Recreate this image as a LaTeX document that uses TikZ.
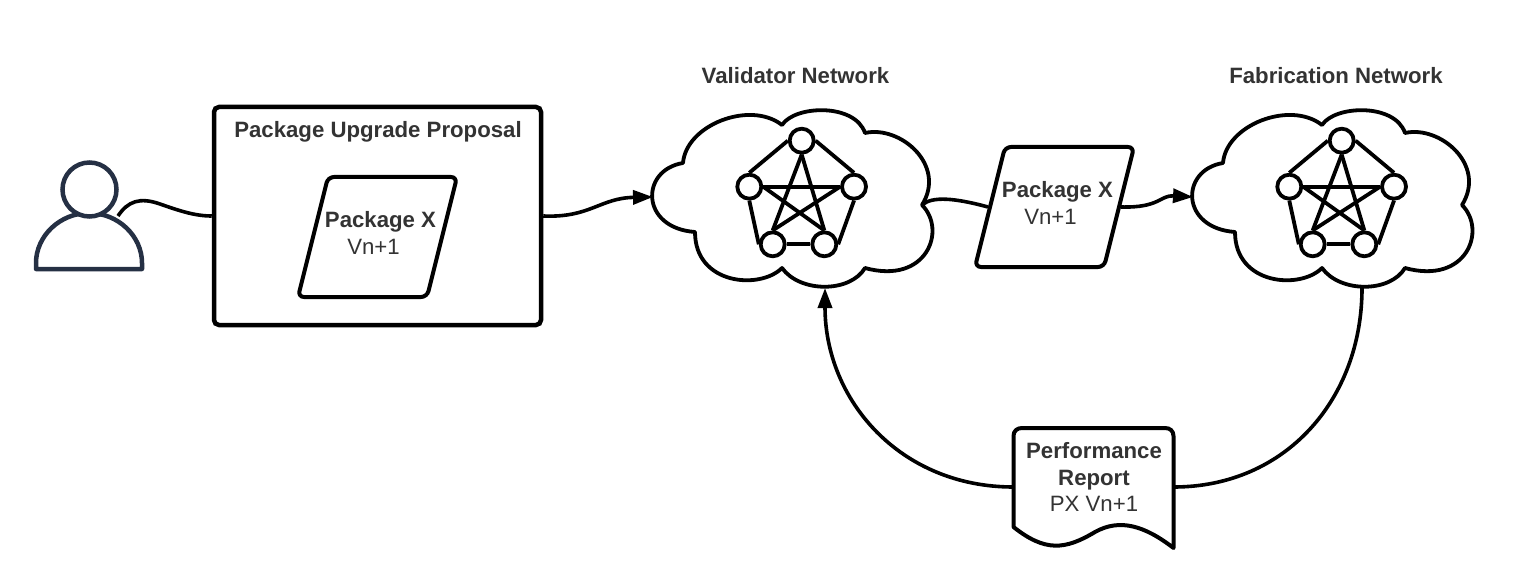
\documentclass[tikz,border=0pt]{standalone}
\usepackage{fontspec}
\setmainfont{Liberation Sans}
\usetikzlibrary{arrows.meta}
\definecolor{inkdark}{HTML}{333333}
\definecolor{personblue}{HTML}{253044}
\tikzset{
  lbl/.style={text=inkdark, font=\fontsize{22.2}{26.5}\selectfont, inner sep=0pt, align=center},
  boldlbl/.style={lbl, font=\fontsize{22.2}{26.5}\selectfont\bfseries},
  conn/.style={line width=3.6pt},
  connarrow/.style={conn, -{Triangle[length=20pt,width=14pt]}},
  peer/.style={circle, draw, fill=white, line width=3.8pt, minimum size=24pt, inner sep=0pt},
  peerlink/.style={line width=3.8pt},
  pkgshape/.style={rectangle, transform shape, xslant=0.25, draw, line width=4pt, rounded corners=6pt,
    minimum width=129pt, minimum height=120pt, inner sep=0pt},
}
\begin{document}
\begin{tikzpicture}[x=1pt,y=-1pt]
\useasboundingbox[fill=white] (0,0) rectangle (1523,588);

% Person
\draw[personblue, line width=4.5pt, line join=round] (36,269) -- (36,263)
  .. controls (36,236) and (60,213) .. (89,213) .. controls (118,213) and (142,236) .. (142,263) -- (142,269) -- cycle;
\node[circle, draw=personblue, fill=white, line width=4.5pt, minimum size=54pt, inner sep=0pt] (head) at (89.5,189.5) {};
\coordinate (personout) at (118,216);

% Proposal box
\node[draw, line width=4.5pt, rounded corners=5pt, minimum width=327pt, minimum height=218pt, inner sep=0pt] (proposal) at (377.5,216) {};
\node[boldlbl] (proposaltitle) at (378,132) {Package Upgrade Proposal};

% Packages
\node[pkgshape] (pkgfirst) at (377.5,237) {};
\node[boldlbl] (pkgfirstname) at (380.5,222) {Package X};
\node[lbl] (pkgfirstver) at (373.5,247) {Vn+1};
\node[pkgshape] (pkgsecond) at (1054.5,207) {};
\node[boldlbl] (pkgsecondname) at (1057.5,192) {Package X};
\node[lbl] (pkgsecondver) at (1050.5,217) {Vn+1};

% Clouds with their peers
\foreach \nw/\sx in {val/0, fab/540} {
\begin{scope}[xshift=\sx pt]
\draw[line width=3.8pt, line join=round] (683,163)
  .. controls (686,125) and (750,100) .. (782,125)
  .. controls (795,105) and (855,103) .. (865,133)
  .. controls (900,125) and (947,165) .. (922,205)
  .. controls (947,230) and (927,285) .. (865,268)
  .. controls (850,293) and (800,293) .. (782,268)
  .. controls (760,290) and (695,285) .. (695,232)
  .. controls (640,228) and (640,170) .. cycle;
\coordinate (\nw-in) at (653,197);
\coordinate (\nw-out) at (922,205);
\coordinate (\nw-low) at (825,288);
\coordinate (\nw-exit) at (822,288);
\node[peer] (\nw-a) at (801.7,140.7) {};
\node[peer] (\nw-b) at (749.3,186.7) {};
\node[peer] (\nw-c) at (854,186.7) {};
\node[peer] (\nw-d) at (772.7,244.3) {};
\node[peer] (\nw-e) at (824.3,244.3) {};
\draw[peerlink] (\nw-a.west) -- (\nw-b.north);
\draw[peerlink] (\nw-a.east) -- (\nw-c.north);
\draw[peerlink] (\nw-b.south) -- (\nw-d.west);
\draw[peerlink] (\nw-c.south) -- (\nw-e.east);
\draw[peerlink] (\nw-d.east) -- (\nw-e.west);
\draw[peerlink] (\nw-b.east) -- (\nw-c.west);
\draw[peerlink] (\nw-a.south) -- (\nw-d.north);
\draw[peerlink] (\nw-a.south) -- (\nw-e.north);
\draw[peerlink] (\nw-b.east) -- (\nw-e.north);
\draw[peerlink] (\nw-c.west) -- (\nw-d.north);
\end{scope}
}
\node[boldlbl] (valtitle) at (795.5,76) {Validator Network};
\node[boldlbl] (fabtitle) at (1336,76) {Fabrication Network};

% Report
\node[minimum width=160pt, minimum height=120pt, inner sep=0pt] (report) at (1093.5,487) {};
\draw[line width=4pt, line join=round] (1013.5,527) -- (1013.5,436) .. controls (1013.5,431) and (1017,428) .. (1022,428)
  -- (1165,428) .. controls (1170,428) and (1173.5,431) .. (1173.5,436) -- (1173.5,548)
  .. controls (1145,526) and (1120,518) .. (1095,532) .. controls (1065,550) and (1045,552) .. cycle;
\node[lbl] (reporttext) at (1094,477) {\textbf{Performance}\\\textbf{Report}\\PX Vn+1};

% Connectors
\draw[conn] (personout) .. controls (128,201) and (140,197) .. (160,204) .. controls (180,211) and (195,216) .. (proposal.west);
\draw[connarrow] (proposal.east) .. controls (590,218) and (600,198) .. (val-in);
\draw[conn] (val-out) .. controls (932,196) and (955,198) .. (pkgsecond.west);
\draw[connarrow] (pkgsecond.east) .. controls (1160,208) and (1160,195) .. (fab-in);
\draw[connarrow] (report.west) .. controls (900,487) and (825,400) .. (val-low);
\draw[conn] (fab-exit) .. controls (1362,400) and (1285,487) .. (report.east);
\end{tikzpicture}
\end{document}
